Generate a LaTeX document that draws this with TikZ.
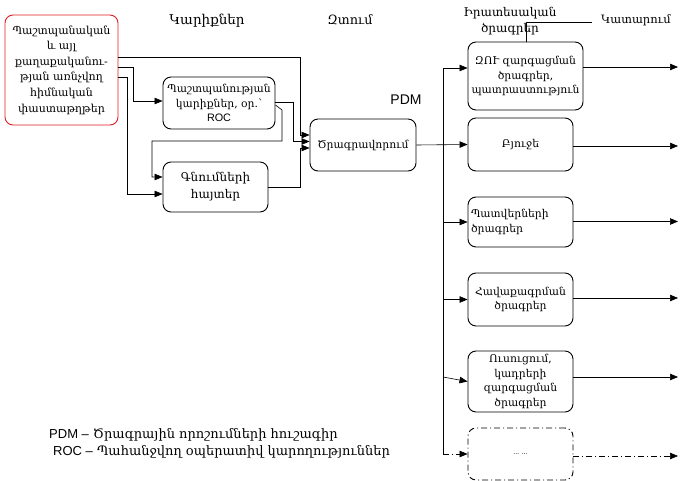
\documentclass[tikz,border=0pt]{standalone}
\usepackage{fontspec}
\setmainfont{DejaVu Serif}
\newfontfamily\lat{Liberation Sans}
\usetikzlibrary{arrows.meta,calc}
\definecolor{srcred}{RGB}{225,30,35}
\begin{document}
\begin{tikzpicture}[x=1pt,y=-1pt,
  box/.style={draw, rounded corners=8pt, line width=0.9pt, align=center,
    inner sep=1pt, font=\fontsize{10.8}{14.5}\selectfont},
  wire/.style={line width=0.6pt},
  arr/.style={wire, -{Triangle[length=8pt,width=6.5pt]}},
  dashdot/.style={dash pattern=on 6pt off 3pt on 1pt off 3pt},
  lbl/.style={font=\fontsize{12}{16}\selectfont, align=center, inner sep=0pt}]
\useasboundingbox (0,0) rectangle (686,481);

% source documents
\node[box, draw=srcred, minimum width=113, minimum height=110,
  font=\fontsize{11}{15.6}\selectfont] (src) at (61.5,70)
  {Պաշտպանական\\և այլ\\քաղաքականու-\\թյան առնչվող\\հիմնական\\փաստաթղթեր};

% needs and purchases
\node[box, minimum width=112, minimum height=52] (need) at (219,103)
  {Պաշտպանության\\կարիքներ, օր.՝\\{\lat ROC}};
\node[box, minimum width=105, minimum height=50,
  font=\fontsize{12}{17}\selectfont] (buy) at (215.5,187)
  {Գնումների\\հայտեր};

% programming
\node[box, minimum width=106, minimum height=52] (prog) at (363,145) {Ծրագրավորում};

% realistic programs
\node[box, minimum width=115, minimum height=68] (r1) at (525.5,76)
  {ԶՈՒ զարգացման\\ծրագրեր,\\պատրաստություն};
\node[box, minimum width=105, minimum height=53] (r2) at (520.5,144.5) {Բյուջե};
\node[box, minimum width=105, minimum height=50, align=left, text width=99] (r3) at (520.5,222)
  {Պատվերների\\ծրագրեր};
\node[box, minimum width=105, minimum height=53] (r4) at (520.5,299.5)
  {Հավաքագրման\\ծրագրեր};
\node[box, minimum width=105, minimum height=61] (r5) at (520.5,381.5)
  {Ուսուցում,\\կադրերի\\զարգացման\\ծրագրեր};
\node[box, dashdot, minimum width=105, minimum height=52] (r6) at (520.5,454)
  {\lat\fontsize{7}{8}\selectfont ... ...};

% column headings
\node[lbl, font=\fontsize{13.5}{16}\selectfont] (h1) at (207,21) {Կարիքներ};
\node[lbl, font=\fontsize{12.8}{16}\selectfont] (h2) at (350,20) {Զտում};
\node[lbl] (h3) at (510,21) {Իրատեսական\\ծրագրեր};
\node[lbl, font=\fontsize{11.5}{16}\selectfont] (h4) at (636,20) {Կատարում};
\node[lbl, font=\lat\fontsize{14}{16}\selectfont] (pdm) at (406,100) {PDM};

% legend
\node[lbl, anchor=west, font=\fontsize{13}{16}\selectfont] (lg1) at (49,435)
  {{\lat PDM –} Ծրագրային որոշումների հուշագիր};
\node[lbl, anchor=west, font=\fontsize{13}{16}\selectfont] (lg2) at (53,452)
  {{\lat ROC –} Պահանջվող օպերատիվ կարողություններ};

% inputs to needs / purchases / programming
\draw[arr] (src.east |- 0,57) -| (300,135) -- (prog.west |- 0,135);
\draw[arr] (src.east |- 0,67) -| (133,101) -- (need.west |- 0,101);
\draw[arr] (src.east |- 0,77) -| (127,194) -- (buy.west |- 0,194);
\draw[arr] (need.east |- 0,102) -| (293,141.5) -- (prog.west |- 0,141.5);
\draw[arr] (need.east |- 0,105) -- (282,110) -- (282,141) -| (152,177) -- (buy.west |- 0,177);
\draw[arr] (buy.east |- 0,187) -| (300,148) -- (prog.west |- 0,148);

% distribution bus
\coordinate (bt) at (443,68);
\coordinate (bb) at (443,454);
\draw[wire] (bt) -- (bb);
\draw[arr] (prog.east) -- (r2.west);
\draw[arr] (bt) -- (r1.west |- bt);
\draw[arr] (bt |- r3.west) -- (r3.west);
\draw[arr] (bt |- r4.west) -- (r4.west);
\draw[arr] (443,377) -- (r5.west);
\draw[arr, dashdot] (bb) -- (r6.west);

% execution outputs
\draw[arr] (r1.east |- 0,67) -- (678,67);
\draw[arr] (r2.east |- 0,146) -- (678,146);
\draw[arr] (r3.east |- 0,221.5) -- (678,221.5);
\draw[arr] (r4.east |- 0,298) -- (678,298);
\draw[arr] (r5.east |- 0,377) -- (678,377);
\draw[arr, dashdot] (r6.east |- 0,456) -- (678,456);

% execution callout
\draw[wire] (r1.north -| 526,0) -- (526,22) -- (592,22);
\end{tikzpicture}
\end{document}
